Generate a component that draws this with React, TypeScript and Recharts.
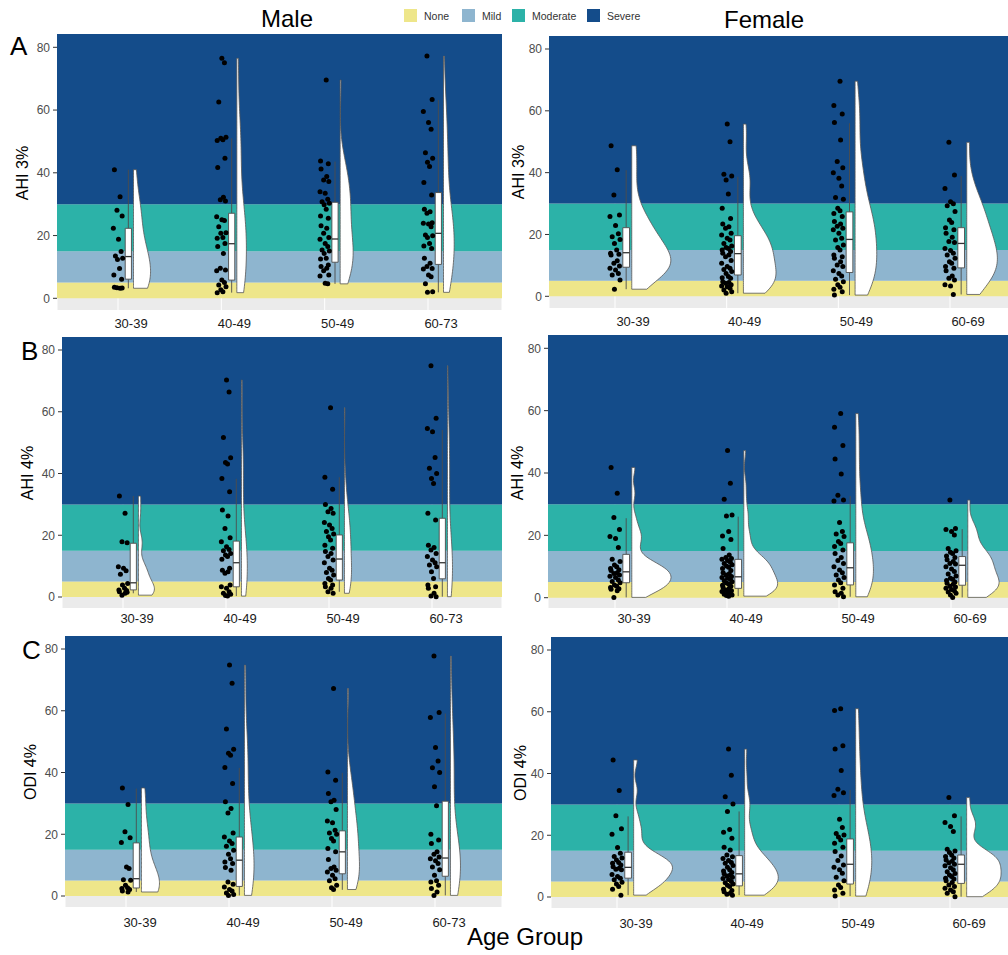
import React from "react";
import {
  ComposedChart,
  Area,
  Scatter,
  XAxis,
  YAxis,
  ReferenceArea,
  ReferenceLine,
  CartesianGrid,
} from "recharts";

// severity bands
const SEVERITY = ["None", "Mild", "Moderate", "Severe"];
const SEVERITY_FROM = [0, 5, 15, 30];
const SEVERITY_COLORS = ["#EEE68A", "#8EB5CF", "#2CB2A8", "#144C8A"];
const Y_TICKS = [0, 20, 40, 60, 80];

const MALE_AGES = ["30-39", "40-49", "50-49", "60-73"];
const FEMALE_AGES = ["30-39", "40-49", "50-49", "60-69"];

// --- A: AHI 3% ---
const maleAhi3 = [
  [41, 32.4, 28.1, 26.2, 22.3, 18.8, 14.9, 13.5, 12.8, 12.4, 9.5, 7.4, 6.1, 3.5, 3.2, 3.4, 3.3],
  [76.5, 75.1, 62.6, 51.3, 51, 50.5, 50.3, 44.6, 41.7, 32.2, 31.4, 31, 26, 25, 24.8, 22.8, 20.9, 20.7, 19.4, 19.1, 17.5, 16.5, 14.3, 9.6, 9, 8.8, 5.8, 5, 4.2, 3.7, 2.7, 2.1, 1.8],
  [69.6, 43.8, 42.9, 41.2, 38.8, 37.7, 37.2, 34, 33.5, 31.6, 30.8, 30.3, 29.8, 28.4, 26.2, 25.5, 23.1, 22.3, 20.7, 19.4, 18.8, 17.5, 16.5, 15.4, 15.1, 14.3, 12.8, 12.5, 10.6, 10.1, 9.6, 8.8, 7.4, 7.1, 4.8, 4.6],
  [77.2, 63.4, 59.5, 56, 53.9, 46.4, 44.6, 43.4, 42, 36.9, 32.9, 28.4, 27.6, 27.1, 24.1, 23.9, 23.7, 22.8, 20.2, 19.9, 19.4, 17.5, 16.7, 15.9, 12.8, 11.2, 10.1, 9.5, 9.3, 7.4, 6.9, 4.6, 2.1, 1.9],
];
// [lower whisker, q1, median, q3, upper whisker]
const maleAhi3Box = [
  [3.2, 6.1, 13.3, 22.3, 41],
  [1.8, 5.8, 17.4, 27.1, 51],
  [4.6, 11.5, 18.9, 30.6, 43.6],
  [1.9, 10.8, 20.7, 33.7, 63.2],
];
const femaleAhi3 = [
  [48.7, 40.9, 32.8, 26.3, 25.8, 22.9, 20.2, 19.3, 18.4, 17.1, 15, 13.9, 13.6, 13.4, 11.5, 10.7, 9.8, 9.1, 8.5, 7.4, 6.9, 5.3, 2.3],
  [55.7, 50, 39.5, 38.9, 37.6, 33.1, 28.5, 25.2, 23.4, 22.5, 22, 20.4, 19.8, 18.8, 18.2, 17.1, 16.3, 15.8, 15.5, 15, 14.5, 13.9, 13.4, 12.8, 11.6, 10.7, 9.6, 9.1, 8.7, 8, 7.4, 6.4, 6, 5.8, 4.7, 4.5, 4.2, 3.7, 3.3, 3.1, 2.6, 2, 1.5, 1],
  [69.6, 61.7, 59, 56.2, 50.6, 43.6, 41.6, 40, 38.2, 35.7, 32, 31.4, 28.5, 27.7, 26.8, 25.8, 24.2, 23.4, 22.7, 22, 21.5, 20.4, 18.8, 18.2, 16.6, 15.8, 15, 13.4, 12.8, 12.3, 11.2, 10.1, 9.6, 8.3, 7.4, 6.6, 5.5, 4.7, 3.7, 2.9, 2.3, 1.5, 0.4],
  [49.8, 39.2, 34.9, 30.6, 29.9, 29.3, 27.4, 24.7, 23.9, 22.2, 21.5, 20.4, 19.1, 17.7, 17.4, 15.5, 14.8, 13.9, 13.4, 12.3, 11.2, 10.7, 9.6, 9.1, 8.3, 6.6, 5.8, 5.3, 3.7, 3.3, 0.6],
];
const femaleAhi3Box = [
  [2.3, 9.4, 14.1, 22.2, 40.8],
  [1, 6.9, 13.8, 19.6, 38.7],
  [0.4, 7.7, 18.4, 27.3, 56],
  [0.6, 9.2, 17.1, 22.2, 38.9],
];

// --- B: AHI 4% ---
const maleAhi4 = [
  [32.7, 27.1, 17.9, 17.6, 9.8, 9.3, 8.5, 7.4, 4.4, 3.9, 2.8, 2.3, 2.1, 1.7, 1.2, 0.6, 1.5],
  [70.3, 66.4, 51.7, 45.1, 43.6, 43.1, 38.4, 34.1, 28.2, 26.2, 22.2, 19.2, 17.9, 16.3, 15.4, 15, 14.1, 13.6, 13.1, 12.2, 9.3, 8.7, 8.2, 7.7, 3.9, 3.3, 2.8, 1.7, 1.2, 0.9, 0.5, 0.3],
  [61.3, 38.8, 34.9, 30, 28.7, 27.6, 27.1, 24.1, 23.3, 22.2, 21.2, 20.4, 19.5, 18.5, 16.8, 15.8, 14.7, 14.1, 13.1, 12, 11.1, 9.3, 8.7, 7.9, 7.1, 6, 5.5, 4.4, 3.9, 3.3, 2.8, 1.7, 1.2],
  [74.9, 57.9, 54.6, 53.5, 45.2, 41.7, 40, 38.4, 36.8, 27.1, 24.9, 16.8, 16, 15.2, 14.1, 13.1, 12, 11.1, 10.4, 9.8, 8.2, 6, 3.9, 3.3, 2.8, 1.2, 0.3, 0.1],
];
const maleAhi4Box = [
  [1.2, 2.3, 4.6, 17.4, 32.7],
  [0.3, 3.3, 11.1, 18.1, 38.3],
  [1.7, 5.5, 12.3, 20.1, 38.8],
  [0.1, 5.9, 11.1, 25.5, 54.1],
];
const femaleAhi4 = [
  [41.8, 33.5, 25.7, 21.9, 19.6, 19, 16.1, 12.3, 11.6, 10.5, 9.9, 9.4, 9, 8.7, 8, 7.8, 7.3, 6.9, 6.5, 5.7, 5.2, 4.8, 4.1, 3.7, 3.3, 2.9, 2.7, 2.2, 0.1],
  [47.2, 36.7, 31.6, 26.5, 26.2, 21.2, 19.8, 18.7, 15.8, 13.7, 12.9, 12.6, 12.3, 11.9, 11.4, 11, 10.6, 10.2, 9.8, 9.4, 8.7, 8, 7.7, 7.3, 6.8, 6.5, 6.2, 5.9, 5.4, 5.1, 4.7, 4.4, 4, 3.7, 3.3, 3, 2.5, 2.2, 2, 1.9, 1.4, 1.1, 0.9, 0.7, 0.5],
  [59.1, 54.7, 48.8, 44.5, 39.7, 32.9, 31.3, 31, 24.1, 21.2, 20.4, 19.6, 18, 17.4, 16.4, 15.3, 14.2, 12.9, 11.9, 11, 9.9, 8.9, 8, 7.3, 6.5, 5.7, 4.8, 4.1, 3, 1.9, 1.4, 0.9, 0.3],
  [31.3, 22.2, 21.9, 21.2, 20.1, 15.8, 15.1, 14.6, 14.2, 13.4, 12.9, 12.2, 11.6, 11, 10.8, 9.9, 9.2, 8.4, 7.6, 7, 6.2, 5.9, 5.5, 5, 4.6, 4.3, 3.7, 3.4, 3, 2.6, 2.2, 1.8, 1.4, 0.9, 0.1],
];
const femaleAhi4Box = [
  [0.1, 4.8, 8.3, 13.9, 25.5],
  [0.5, 3, 6.7, 12.3, 26],
  [0.3, 4.1, 9.6, 17.6, 32.6],
  [0.1, 4, 10.4, 13.2, 22],
];

// --- C: ODI 4% ---
const maleOdi4 = [
  [35, 29.6, 20.8, 18.9, 17.3, 9.4, 8.9, 5.3, 5.1, 3.5, 2.7, 2.4, 2.1, 1.6, 1.3],
  [74.8, 68.9, 54.1, 47.5, 46.2, 45.6, 41.6, 36.4, 30.5, 28.3, 26.9, 20.4, 19.1, 17.8, 17, 16.1, 14.8, 13.5, 12.1, 11, 10.5, 9.2, 8.3, 4.5, 3.8, 2.9, 2.1, 1.6, 1, 0.5, 0.2],
  [67.2, 40.2, 37.5, 33.2, 31, 30.5, 28, 24.3, 23.7, 21.3, 20.4, 20, 18.6, 17.8, 15.4, 14.3, 11.8, 9.4, 8.9, 8.3, 7.8, 6.7, 5.6, 4.9, 3.5, 2.7, 2.1],
  [77.7, 59.4, 57.8, 48.1, 43.7, 41.5, 40, 35.4, 29.2, 20, 18.1, 17, 14.3, 13.5, 12.6, 12.1, 11.4, 10.5, 9.4, 8.5, 6.7, 4.9, 4.5, 3.5, 2.4, 1.3, 0.2],
];
const maleOdi4Box = [
  [1.3, 2.6, 5.6, 17.2, 34.8],
  [0.2, 3.1, 11.6, 19.1, 41.5],
  [2, 7.2, 14.3, 21.1, 39.9],
  [0.2, 6.4, 12.3, 30.7, 59.1],
];
const femaleOdi4 = [
  [44.4, 34.5, 26.3, 22.1, 20.3, 16, 14.2, 13.1, 12.6, 12, 11.2, 10.9, 10.4, 9.8, 9.3, 9, 8.8, 7.3, 6.6, 6.1, 5.6, 4.8, 4.2, 3.4, 2.5, 0.6],
  [47.9, 39.4, 32.5, 30.1, 27.7, 21.9, 21, 19, 16.1, 15.2, 13.6, 13, 12.5, 11.8, 11.2, 10.9, 10.2, 9.6, 8.8, 8.4, 7.9, 7.5, 7.1, 6.8, 6.4, 6, 5.7, 5, 4.6, 4.2, 3.8, 3.4, 2.5, 2.1, 1.7, 1.2, 0.9, 0.6],
  [61, 60.4, 49, 47.9, 41, 34.9, 33.8, 32.9, 25.2, 22.5, 20.6, 20.1, 19.4, 18.5, 17.4, 16.1, 14.7, 13.3, 11.8, 10.4, 9.6, 8.8, 7.7, 6.4, 5.3, 3.9, 3.1, 2.3, 1.2, 0.3],
  [32.2, 26.3, 24.1, 22.8, 21.2, 15.5, 14.9, 14.4, 13.6, 13.1, 12.6, 12, 11.6, 11.1, 10.6, 10.1, 9.5, 8.8, 8.2, 7.6, 7.1, 6.6, 6.1, 5.8, 5.3, 4.7, 3.9, 3.4, 2.8, 2.3, 1.7, 1.2, 0.1],
];
const femaleOdi4Box = [
  [0.6, 6.1, 9.6, 14.5, 26.1],
  [0.6, 3.6, 7.5, 13.4, 27.7],
  [0.3, 4.2, 10.6, 18.8, 34.7],
  [0.1, 4.4, 10.6, 13.6, 26.1],
];

// horizontal spread of the rain points (fraction of a category step)
const JITTER = [-0.035, 0.02, -0.01, 0.04, -0.045, 0.005, 0.03, -0.025, 0.045, -0.005, 0.015, -0.04, 0.035];

const YW = 40; // y axis width
const XH = 30; // x axis height
const BOX_OFF = 0.1;
const BOX_HALF = 0.03;
const VIOLIN_OFF = 0.15;

// gaussian kde, trimmed to data range (like stat_ydensity)
function kde(vals: number[], n = 80) {
  const s = [...vals].sort((a, b) => a - b);
  const N = s.length;
  const mean = s.reduce((a, b) => a + b, 0) / N;
  const sd = Math.sqrt(s.reduce((a, b) => a + (b - mean) ** 2, 0) / (N - 1));
  const q = (p: number) => {
    const h = (N - 1) * p;
    const lo = Math.floor(h);
    return s[lo] + (h - lo) * (s[Math.min(lo + 1, N - 1)] - s[lo]);
  };
  const iqr = q(0.75) - q(0.25);
  const bw = 0.9 * Math.min(sd, iqr / 1.34) * Math.pow(N, -0.2);
  const out: { y: number; d: number }[] = [];
  for (let i = 0; i < n; i++) {
    const y = s[0] + ((s[N - 1] - s[0]) * i) / (n - 1);
    let d = 0;
    for (const v of s) d += Math.exp(-0.5 * ((y - v) / bw) ** 2);
    out.push({ y, d: d / (N * bw * Math.sqrt(2 * Math.PI)) });
  }
  return out;
}

type PanelSpec = {
  pts: number[][];
  box: number[][];
  ages: string[];
  left: number;
  top: number;
  right: number;
  bottom: number;
  y0: number;
  y80: number;
  cat1: number;
  cat4: number;
  vmax: number;
  labelDx: number;
  labelDy: number;
};

const EMPTY = [null, null];

function RainPanel({ p }: { p: PanelSpec }) {
  const ppuX = (p.cat4 - p.cat1) / 3;
  const xMin = 1 - (p.cat1 - p.left) / ppuX;
  const xMax = 4 + (p.right - p.cat4) / ppuX;
  const ppuY = (p.y0 - p.y80) / 80;
  const yMax = (p.y0 - p.top) / ppuY;
  const yMin = -(p.bottom - p.y0) / ppuY;

  const dens = p.pts.map((g) => kde(g));
  const maxD = Math.max(...dens.flatMap((g) => g.map((r) => r.d)));

  // one row per outline point; other violins get an empty range so they break
  const rows: any[] = [];
  const row = (gi: number, y: number, r: number[]) => {
    const o: any = { y };
    for (let k = 0; k < 4; k++) o["v" + k] = k === gi ? r : EMPTY;
    rows.push(o);
  };
  dens.forEach((g, gi) => {
    const x0 = gi + 1 + VIOLIN_OFF;
    row(gi, g[0].y, [x0, x0]);
    g.forEach((r) => row(gi, r.y, [x0, x0 + (r.d / maxD) * p.vmax]));
    row(gi, g[g.length - 1].y, [x0, x0]);
  });

  const rain = p.pts.flatMap((g, gi) =>
    g.map((v, i) => ({ x: gi + 1 + JITTER[(i + gi * 5) % JITTER.length], y: v }))
  );

  const w = YW + (p.right - p.left);
  const h = p.bottom - p.top + XH;

  return (
    <div style={{ position: "absolute", left: p.left - YW, top: p.top }}>
      <ComposedChart
        layout="vertical"
        width={w}
        height={h}
        data={rows}
        margin={{ top: 0, right: 0, bottom: 0, left: 0 }}
      >
        <CartesianGrid horizontal={false} fill="#EBEBEB" stroke="#FFFFFF" strokeWidth={1} />
        <XAxis
          type="number"
          dataKey="x"
          domain={[xMin, xMax]}
          ticks={[1, 2, 3, 4]}
          allowDataOverflow
          height={XH}
          axisLine={false}
          tickLine={false}
          tickSize={0}
          tickMargin={0}
          tick={(t: any) => (
            <text
              x={t.x + p.labelDx}
              y={t.y + p.labelDy}
              textAnchor="middle"
              dominantBaseline="central"
              fontSize={13}
              fill="#1A1A1A"
            >
              {p.ages[Math.round(t.payload.value) - 1]}
            </text>
          )}
        />
        <YAxis
          type="number"
          dataKey="y"
          domain={[yMin, yMax]}
          ticks={Y_TICKS}
          allowDataOverflow
          reversed
          width={YW}
          axisLine={false}
          tickSize={4}
          tickMargin={3}
          tickLine={{ stroke: "#333333" }}
          tick={{ fill: "#4D4D4D", fontSize: 12 }}
        />
        {SEVERITY.map((s, i) => (
          <ReferenceArea
            key={s}
            y1={SEVERITY_FROM[i]}
            y2={i < 3 ? SEVERITY_FROM[i + 1] : yMax}
            fill={SEVERITY_COLORS[i]}
            fillOpacity={1}
            stroke="none"
            zIndex={-60}
          />
        ))}
        {dens.map((_, gi) => (
          <Area
            key={"v" + gi}
            dataKey={"v" + gi}
            type="linear"
            fill="#FFFFFF"
            fillOpacity={1}
            stroke="#555555"
            strokeWidth={0.8}
            dot={false}
            activeDot={false}
            connectNulls={false}
            isAnimationActive={false}
          />
        ))}
        {p.box.map((b, gi) => {
          const bx = gi + 1 + BOX_OFF;
          return (
            <ReferenceLine
              key={"wl" + gi}
              segment={[{ x: bx, y: b[0] }, { x: bx, y: b[1] }]}
              stroke="#4D4D4D"
              strokeWidth={0.9}
              zIndex={150}
            />
          );
        })}
        {p.box.map((b, gi) => {
          const bx = gi + 1 + BOX_OFF;
          return (
            <ReferenceLine
              key={"wh" + gi}
              segment={[{ x: bx, y: b[3] }, { x: bx, y: b[4] }]}
              stroke="#4D4D4D"
              strokeWidth={0.9}
              zIndex={150}
            />
          );
        })}
        {p.box.map((b, gi) => {
          const bx = gi + 1 + BOX_OFF;
          return (
            <ReferenceArea
              key={"bx" + gi}
              x1={bx - BOX_HALF}
              x2={bx + BOX_HALF}
              y1={b[1]}
              y2={b[3]}
              fill="#FFFFFF"
              fillOpacity={1}
              stroke="#4D4D4D"
              strokeWidth={0.9}
              zIndex={160}
            />
          );
        })}
        {p.box.map((b, gi) => {
          const bx = gi + 1 + BOX_OFF;
          return (
            <ReferenceLine
              key={"md" + gi}
              segment={[{ x: bx - BOX_HALF, y: b[2] }, { x: bx + BOX_HALF, y: b[2] }]}
              stroke="#333333"
              strokeWidth={1.3}
              zIndex={170}
            />
          );
        })}
        <Scatter
          data={rain}
          fill="#000000"
          isAnimationActive={false}
          shape={(s: any) => <circle cx={s.cx} cy={s.cy} r={2.5} fill="#000000" />}
        />
      </ComposedChart>
    </div>
  );
}

const PANELS: PanelSpec[] = [
  { pts: maleAhi3, box: maleAhi3Box, ages: MALE_AGES, left: 57, top: 34, right: 502, bottom: 310, y0: 298.3, y80: 47.3, cat1: 118, cat4: 428, vmax: 0.165, labelDx: 13, labelDy: 13 },
  { pts: femaleAhi3, box: femaleAhi3Box, ages: FEMALE_AGES, left: 549, top: 36, right: 1020, bottom: 308, y0: 296.3, y80: 49, cat1: 615, cat4: 950, vmax: 0.35, labelDx: 18, labelDy: 13 },
  { pts: maleAhi4, box: maleAhi4Box, ages: MALE_AGES, left: 62, top: 337, right: 502, bottom: 608, y0: 597, y80: 350, cat1: 123, cat4: 432, vmax: 0.155, labelDx: 14, labelDy: 10 },
  { pts: femaleAhi4, box: femaleAhi4Box, ages: FEMALE_AGES, left: 548, top: 335, right: 1020, bottom: 608, y0: 597.7, y80: 348.3, cat1: 615, cat4: 951, vmax: 0.35, labelDx: 19, labelDy: 10 },
  { pts: maleOdi4, box: maleOdi4Box, ages: MALE_AGES, left: 65, top: 636, right: 502, bottom: 907, y0: 896, y80: 649, cat1: 126, cat4: 435, vmax: 0.175, labelDx: 14, labelDy: 15 },
  { pts: femaleOdi4, box: femaleOdi4Box, ages: FEMALE_AGES, left: 551, top: 637, right: 1020, bottom: 908, y0: 897, y80: 650, cat1: 617, cat4: 950, vmax: 0.35, labelDx: 19, labelDy: 15 },
];

const Y_TITLES = [
  { text: "AHI 3%", x: 28, y: 173 },
  { text: "AHI 3%", x: 524, y: 172 },
  { text: "AHI 4%", x: 33, y: 473 },
  { text: "AHI 4%", x: 523, y: 473 },
  { text: "ODI 4%", x: 36, y: 772 },
  { text: "ODI 4%", x: 526, y: 773 },
];

const LEGEND_X = [404, 462, 512, 587];

export default function App() {
  return (
    <div
      style={{
        position: "absolute",
        left: 0,
        top: 0,
        width: 1008,
        height: 955,
        overflow: "hidden",
        background: "#FFFFFF",
        fontFamily: '"Liberation Sans", Arial, sans-serif',
      }}
    >
      {PANELS.map((p, i) => (
        <RainPanel key={i} p={p} />
      ))}
      <svg
        width={1008}
        height={955}
        style={{ position: "absolute", left: 0, top: 0, pointerEvents: "none" }}
        fontFamily='"Liberation Sans", Arial, sans-serif'
      >
        <text x={287} y={27} fontSize={24} textAnchor="middle" fill="#000">Male</text>
        <text x={764} y={28} fontSize={24} textAnchor="middle" fill="#000">Female</text>
        <text x={10} y={55} fontSize={26} fill="#000">A</text>
        <text x={21} y={360} fontSize={26} fill="#000">B</text>
        <text x={22} y={659} fontSize={26} fill="#000">C</text>
        <text x={525} y={945} fontSize={24} textAnchor="middle" fill="#000">Age Group</text>
        {Y_TITLES.map((t, i) => (
          <text
            key={i}
            x={t.x}
            y={t.y}
            fontSize={16}
            textAnchor="middle"
            fill="#000"
            transform={`rotate(-90 ${t.x} ${t.y})`}
          >
            {t.text}
          </text>
        ))}
        {SEVERITY.map((s, i) => (
          <g key={s}>
            <rect x={LEGEND_X[i]} y={9} width={13} height={13} fill={SEVERITY_COLORS[i]} />
            <text x={LEGEND_X[i] + 20} y={20} fontSize={10.5} fill="#333">{s}</text>
          </g>
        ))}
      </svg>
    </div>
  );
}
